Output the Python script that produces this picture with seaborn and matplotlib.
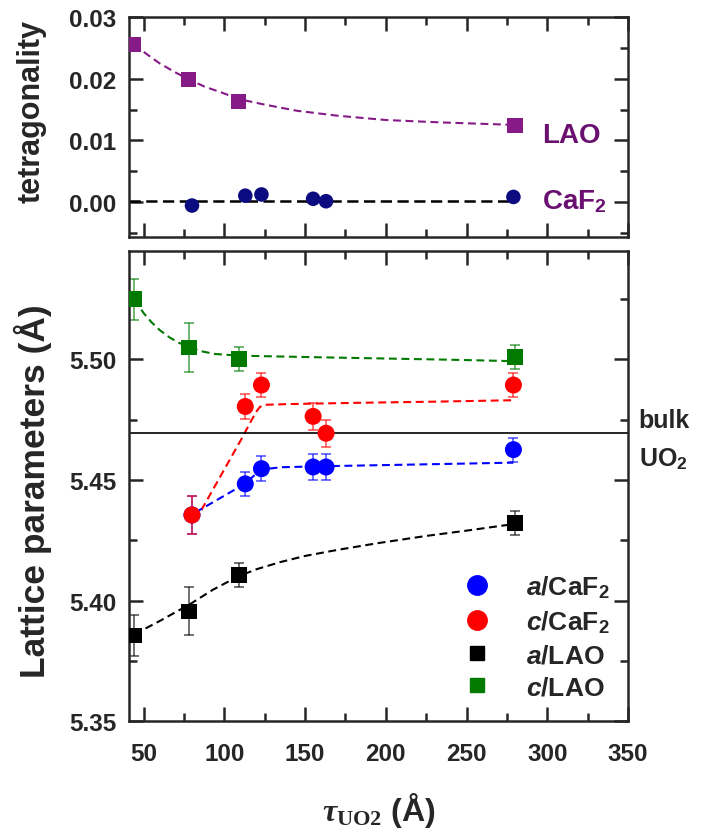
import numpy as np
import pandas as pd
import matplotlib
matplotlib.use("Agg")
import matplotlib.pyplot as plt
import seaborn as sns
from matplotlib.lines import Line2D
from matplotlib.ticker import MultipleLocator, FormatStrFormatter

# Film thickness tau_UO2 (Å) of the two sample series
lao_x = [44, 78, 109, 280]
caf2_x = [80, 113, 123, 155, 163, 279]

# Top panel: tetragonality
tet_lao = [0.0256, 0.0199, 0.0163, 0.0124]
tet_caf2 = [-0.0006, 0.0010, 0.0012, 0.0005, 0.0001, 0.0008]
tet_caf2_ref = 0.0002

# Bottom panel: lattice parameters (Å) and error bars
a_caf2 = [5.4355, 5.4484, 5.4547, 5.4554, 5.4554, 5.4626]
a_caf2_err = [0.008, 0.005, 0.0053, 0.0054, 0.0054, 0.005]
c_caf2 = [5.4355, 5.4805, 5.4894, 5.4764, 5.4694, 5.4894]
c_caf2_err = [0.008, 0.005, 0.005, 0.0055, 0.0055, 0.005]
a_lao = [5.3855, 5.3955, 5.4106, 5.4321]
a_lao_err = [0.0085, 0.01, 0.005, 0.005]
c_lao = [5.525, 5.505, 5.5003, 5.501]
c_lao_err = [0.0085, 0.01, 0.005, 0.005]
bulk_uo2 = 5.4695

# Dashed guide curves
tet_fit_x = [44, 52, 60, 70, 78, 88, 98, 109, 125, 145, 170, 200, 235, 280]
tet_fit_y = [0.0256, 0.0240, 0.0225, 0.0210, 0.0199, 0.0187, 0.0178, 0.0167,
             0.0158, 0.0148, 0.0140, 0.0133, 0.0129, 0.0125]
c_lao_fit_x = [44.4, 50, 55, 60, 66, 72, 78.2, 86, 94, 108.6, 130, 160, 200, 240, 280]
c_lao_fit_y = [5.5250, 5.5193, 5.5154, 5.5122, 5.5092, 5.5069, 5.5052, 5.5034, 5.5023,
               5.5016, 5.5013, 5.5009, 5.5004, 5.4999, 5.4993]
a_lao_fit_x = [44.4, 60, 78.8, 93, 108.6, 120, 135, 150, 170, 195, 225, 250, 280]
a_lao_fit_y = [5.3860, 5.3915, 5.3985, 5.4045, 5.4100, 5.4130, 5.4160, 5.4185,
               5.4210, 5.4238, 5.4268, 5.4290, 5.4318]
c_caf2_fit_x = [82, 110.7, 117, 120, 122, 125, 140, 180, 230, 279]
c_caf2_fit_y = [5.4330, 5.4671, 5.4750, 5.4785, 5.4803, 5.4812, 5.4815, 5.4820, 5.4825, 5.4831]
a_caf2_fit_x = [82, 112.7, 122.6, 135, 160, 200, 240, 279]
a_caf2_fit_y = [5.4365, 5.4484, 5.4543, 5.4553, 5.4557, 5.4562, 5.4567, 5.4572]

sns.set_style("ticks")
plt.rcParams['font.family'] = ['Liberation Sans', 'DejaVu Sans']
plt.rcParams['font.weight'] = 'bold'
plt.rcParams['mathtext.fontset'] = 'custom'
plt.rcParams['mathtext.rm'] = 'Liberation Sans:bold'
plt.rcParams['mathtext.it'] = 'Liberation Serif:italic'
plt.rcParams['mathtext.sf'] = 'Liberation Serif'
plt.rcParams['mathtext.bf'] = 'Liberation Sans:italic:bold'

purple = '#861a86'
purple_txt = '#6a1070'
navy = '#0c0c80'
green = '#007a00'

fig = plt.figure(figsize=(7.01, 8.29), dpi=100)
ax1 = fig.add_axes([0.184, 0.713, 0.712, 0.265])
ax2 = fig.add_axes([0.184, 0.129, 0.712, 0.567])

dash = (0, (3.8, 2.2))

# top panel
sns.lineplot(x=tet_fit_x, y=tet_fit_y, ax=ax1, color=purple, lw=1.5, linestyle=dash)
ax1.hlines(tet_caf2_ref, 41, caf2_x[-1], color='black', lw=1.8, linestyle=(0, (4.5, 2.2)))
sns.scatterplot(x=lao_x, y=tet_lao, ax=ax1, marker='s', s=120, color=purple,
                edgecolor='none', zorder=3)
sns.scatterplot(x=caf2_x, y=tet_caf2, ax=ax1, marker='o', s=110, color=navy,
                edgecolor='none', zorder=3)
ax1.text(297, 0.00976, 'LAO', color=purple_txt, fontsize=20, fontweight='bold', va='baseline')
ax1.text(297, -0.00098, 'CaF$_2$', color=purple_txt, fontsize=20, fontweight='bold', va='baseline')

# bottom panel
curves = [(c_lao_fit_x, c_lao_fit_y, green), (a_lao_fit_x, a_lao_fit_y, 'black'),
          (c_caf2_fit_x, c_caf2_fit_y, 'red'), (a_caf2_fit_x, a_caf2_fit_y, 'blue')]
for cx, cy, col in curves:
    sns.lineplot(x=cx, y=cy, ax=ax2, color=col, lw=1.5, linestyle=dash)

ax2.axhline(bulk_uo2, color='black', lw=1.2)

series = [(caf2_x, a_caf2, a_caf2_err, 'blue', 'o', 150),
          (caf2_x, c_caf2, c_caf2_err, 'red', 'o', 150),
          (lao_x, a_lao, a_lao_err, 'black', 's', 125),
          (lao_x, c_lao, c_lao_err, green, 's', 125)]
for sx, sy, se, col, mk, sz in series:
    ax2.errorbar(sx, sy, yerr=se, fmt='none', ecolor=col, alpha=0.6,
                 elinewidth=1.3, capsize=3.8, capthick=1.3, zorder=2)
    sns.scatterplot(x=sx, y=sy, ax=ax2, marker=mk, s=sz, color=col,
                    edgecolor='none', zorder=3)

ax2.text(356.5, 5.472, 'bulk', fontsize=18, fontweight='bold', va='baseline', clip_on=False)
ax2.text(356.5, 5.456, 'UO$_2$', fontsize=18, fontweight='bold', va='baseline', clip_on=False)

handles = [Line2D([], [], ls='none', marker='o', color='blue', markersize=14),
           Line2D([], [], ls='none', marker='o', color='red', markersize=14),
           Line2D([], [], ls='none', marker='s', color='black', markersize=10),
           Line2D([], [], ls='none', marker='s', color=green, markersize=10)]
labels = [r'$\mathbf{a}$/CaF$_2$', r'$\mathbf{c}$/CaF$_2$', r'$\mathbf{a}$/LAO', r'$\mathbf{c}$/LAO']
ax2.legend(handles, labels, frameon=False, fontsize=19, loc='lower right',
           bbox_to_anchor=(1.01, -0.005), labelspacing=0.32, handletextpad=1.25,
           handlelength=1.2)

# axes styling
for ax in (ax1, ax2):
    ax.set_xlim(41, 350)
    ax.xaxis.set_major_locator(MultipleLocator(50))
    ax.xaxis.set_minor_locator(MultipleLocator(25))
    ax.tick_params(which='both', direction='in', top=True, right=True, width=1.8,
                   labelsize=17.5)
    ax.tick_params(which='major', length=10)
    ax.tick_params(which='minor', length=6)
    for sp in ax.spines.values():
        sp.set_linewidth(1.8)
    ax.set_xlabel('')
    ax.set_ylabel('')

ax1.set_ylim(-0.0057, 0.03)
ax1.yaxis.set_major_locator(MultipleLocator(0.01))
ax1.yaxis.set_minor_locator(MultipleLocator(0.005))
ax1.yaxis.set_major_formatter(FormatStrFormatter('%.2f'))
ax1.tick_params(axis='x', labelbottom=False)
ax1.tick_params(axis='y', pad=9)

ax2.set_ylim(5.35, 5.545)
ax2.yaxis.set_major_locator(MultipleLocator(0.05))
ax2.yaxis.set_minor_locator(MultipleLocator(0.025))
ax2.yaxis.set_major_formatter(FormatStrFormatter('%.2f'))
ax2.tick_params(axis='x', pad=15)
ax2.tick_params(axis='y', pad=9)

fig.text(0.045, 0.865, 'tetragonality', rotation=90, ha='center', va='center',
         fontsize=22, fontweight='bold')
fig.text(0.047, 0.408, 'Lattice parameters (Å)', rotation=90, ha='center', va='center',
         fontsize=25.5, fontweight='bold')
fig.text(0.54, 0.022, r'$\tau_{\mathsf{UO2}}$ (Å)', ha='center', va='center',
         fontsize=23, fontweight='bold')

fig.savefig('out.png', dpi=100)
